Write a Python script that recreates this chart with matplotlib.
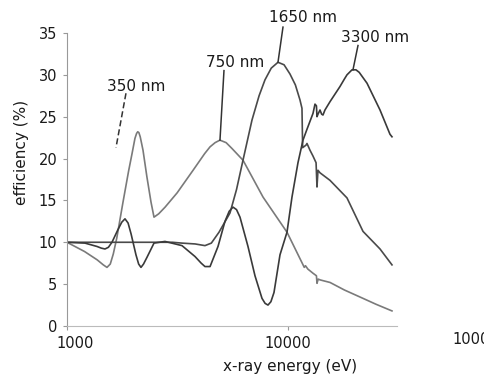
import numpy as np
import matplotlib
matplotlib.use("Agg")
from matplotlib import pyplot as plt
from matplotlib.transforms import ScaledTranslation

# light grey curve: 350 nm peak and 750 nm peak
energy_a = [1000, 1200, 1370, 1460, 1517, 1570, 1620, 1680, 1790, 1900, 1970, 2030,
            2065, 2090, 2115, 2145, 2208, 2300, 2400, 2476, 2600, 2780, 3150, 3720,
            4200, 4440, 4680, 4920, 5250, 5580, 6260, 7710, 9900, 11700, 11850, 12000,
            12300, 12980, 13450, 13530, 13700, 14000, 15500, 18000, 21850, 25000, 29550]
eff_a = [10.0, 8.9, 7.9, 7.3, 7.0, 7.4, 8.6, 10.5, 14.7, 18.5, 20.6, 22.4,
         23.0, 23.2, 23.1, 22.6, 21.0, 17.8, 14.8, 13.0, 13.4, 14.2, 15.9, 18.6,
         20.6, 21.4, 21.9, 22.2, 21.9, 21.2, 19.8, 15.4, 11.2, 7.3, 7.0, 7.2,
         6.8, 6.3, 6.0, 5.1, 5.6, 5.5, 5.2, 4.3, 3.3, 2.6, 1.8]

# 1650 nm curve
energy_b = [1000, 1500, 2000, 2500, 3000, 3314, 3800, 4211, 4500, 4874, 5465, 5850,
            6258, 6873, 7400, 7869, 8400, 9011, 9600, 10210, 10800, 11332, 11570, 11650,
            12064, 12190, 12576, 12976, 13400, 13529, 13670, 13958, 15488, 18492, 21852,
            26088, 29556]
eff_b = [10.0, 10.0, 10.0, 10.0, 10.0, 9.9, 9.8, 9.6, 9.9, 11.2, 13.5, 16.3,
         19.8, 24.6, 27.5, 29.4, 30.8, 31.5, 31.2, 30.1, 28.8, 27.0, 26.0, 21.3,
         21.6, 21.8, 21.0, 20.3, 19.5, 16.6, 18.6, 18.3, 17.4, 15.3, 11.3,
         9.2, 7.3]

# 3300 nm curve
energy_c = [1000, 1206, 1367, 1430, 1486, 1540, 1598, 1700, 1770, 1830, 1890, 1950,
            2052, 2110, 2162, 2220, 2301, 2476, 2776, 3314, 3795, 4050, 4211, 4440,
            4824, 5187, 5420, 5638, 5850, 6066, 6592, 7091, 7628, 7880, 8119, 8370,
            8644, 9201, 9897, 10426, 11097, 11692, 12190, 12980, 13250, 13450, 13530,
            13670, 13960, 14200, 14400, 14700, 15500, 17188, 18000, 18492, 19484, 20300,
            21000, 22783, 26088, 28945, 29556]
eff_c = [10.0, 9.9, 9.5, 9.3, 9.2, 9.4, 10.0, 11.5, 12.4, 12.8, 12.3, 11.0,
         8.5, 7.4, 7.0, 7.4, 8.2, 9.9, 10.1, 9.6, 8.3, 7.5, 7.1, 7.1,
         9.5, 12.5, 13.7, 14.2, 13.9, 13.0, 9.5, 6.0, 3.3, 2.7, 2.5, 2.9,
         4.0, 8.5, 11.2, 15.4, 19.5, 22.2, 23.5, 25.4, 26.5, 26.3, 25.0,
         25.3, 25.8, 25.3, 25.2, 25.8, 26.8, 28.6, 29.5, 30.0, 30.6, 30.6,
         30.3, 29.0, 25.8, 22.9, 22.6]

x_ticks = [1000, 10000]
x_tick_labels = ["1000", "10000"]
y_ticks = [0, 5, 10, 15, 20, 25, 30, 35]

fig = plt.figure(figsize=(4.85, 3.76), dpi=100)
ax = fig.add_axes([0.1381, 0.1330, 0.6804, 0.7793])

ax.plot(energy_a, eff_a, color="#7a7a7a", lw=1.2)
ax.plot(energy_b, eff_b, color="#4a4a4a", lw=1.2)
ax.plot(energy_c, eff_c, color="#3a3a3a", lw=1.2)

ax.set_xscale("log")
ax.set_xlim(1000, 31130)
ax.set_ylim(0, 35)
ax.set_xticks(x_ticks, x_tick_labels)
ax.xaxis.set_minor_locator(matplotlib.ticker.NullLocator())
ax.set_yticks(y_ticks)

for s in ["top", "right"]:
  ax.spines[s].set_visible(False)
ax.spines["left"].set_color("#999999")
ax.spines["bottom"].set_color("#bbbbbb")
ax.tick_params(axis="both", colors="#999999", labelcolor="#1a1a1a",
               labelsize=10.5, length=3, pad=4)

# first x label sits a bit right of its tick in the original
lab = ax.get_xticklabels()[0]
lab.set_transform(lab.get_transform() + ScaledTranslation(0.08, 0, fig.dpi_scale_trans))

fig.text(22/485, 1-152/376, "efficiency (%)", rotation=90, ha="center", va="center",
         fontsize=11, color="#1a1a1a")
fig.text(290/485, 1-366/376, "x-ray energy (eV)", ha="center", va="center",
         fontsize=11, color="#1a1a1a")
# the original scan cuts this label at the right edge
fig.text(452/485, 1-340/376, "100000", ha="left", va="center",
         fontsize=10.5, color="#1a1a1a")

# peak labels with leader lines
labels = [("350 nm", (2052, 28.6), (1849, 27.8), (1666, 21.3), (0, (4, 2))),
          ("750 nm", (5757, 31.5), (5133, 30.5), (4924, 22.2), "-"),
          ("1650 nm", (11692, 36.9), (9493, 35.7), (9011, 31.5), "-"),
          ("3300 nm", (24762, 34.4), (20738, 33.5), (19684, 30.6), "-")]
for txt, tpos, p0, p1, ls in labels:
  ax.text(tpos[0], tpos[1], txt, ha="center", va="center", fontsize=11,
          color="#1a1a1a", clip_on=False)
  ax.plot([p0[0], p1[0]], [p0[1], p1[1]], color="#333333", lw=1.1,
          ls=ls, clip_on=False)

fig.savefig("out.png", dpi=100)
